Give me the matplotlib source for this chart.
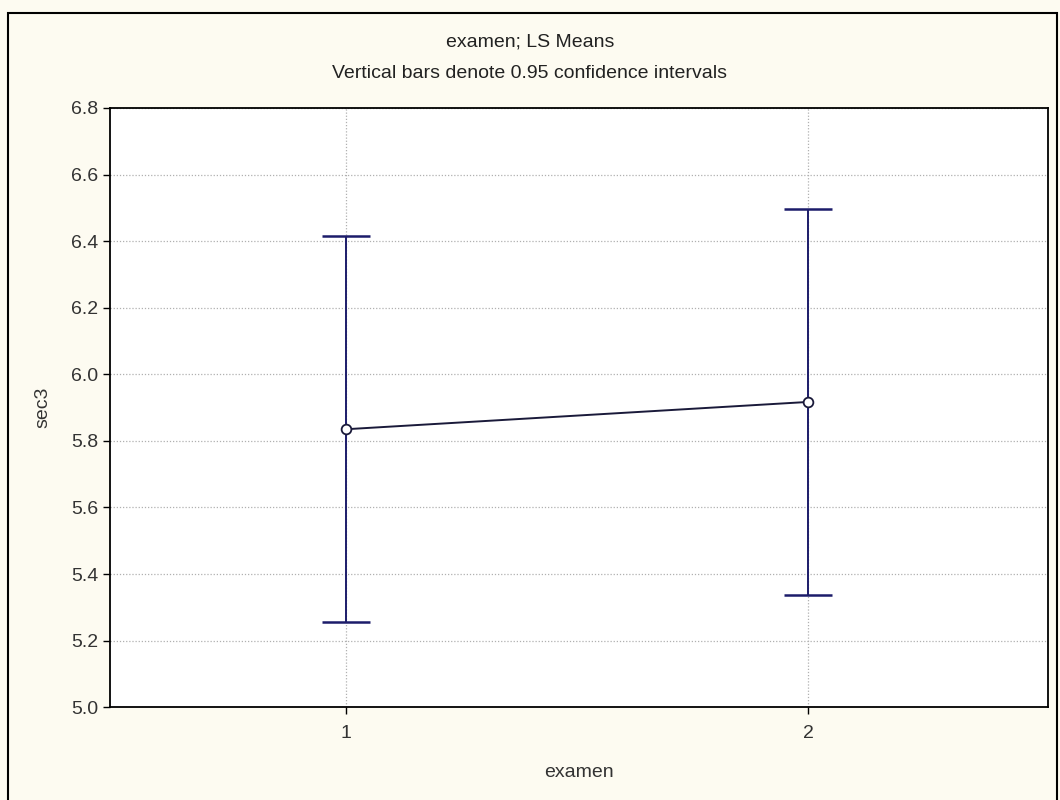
import matplotlib
matplotlib.use("Agg")
import matplotlib.pyplot as plt
from matplotlib.patches import Rectangle

# LS means for sec3 by examen, with 0.95 confidence limits
groups = [1, 2]
means = [5.835, 5.917]
lower = [5.255, 5.337]
upper = [6.415, 6.497]

plt.rcParams["font.family"] = ["Liberation Sans", "DejaVu Sans"]

fig = plt.figure(figsize=(10.6, 8.0), dpi=100, facecolor="#fdfbf1")
ax = fig.add_axes([0.104, 0.116, 0.885, 0.749])
ax.set_facecolor("white")

err_lo = [m - l for m, l in zip(means, lower)]
err_hi = [u - m for m, u in zip(means, upper)]
ax.errorbar(groups, means, yerr=[err_lo, err_hi], fmt="none",
            ecolor="#1c1c6a", elinewidth=1.4, capsize=17, capthick=1.8,
            zorder=3)
ax.plot(groups, means, color="#1a1a3a", lw=1.4, zorder=4)
ax.plot(groups, means, "o", ms=7, mfc="white", mec="#1a1a3a", mew=1.3,
        zorder=5)

ax.set_xlim(0.49, 2.52)
ax.set_ylim(5.0, 6.8)
ax.set_xticks(groups)
ax.set_yticks([5.0 + 0.2 * i for i in range(10)])
ax.set_yticklabels([f"{5.0 + 0.2 * i:.1f}" for i in range(10)])
ax.grid(True, linestyle=(0, (1, 1.5)), color="#b0b0b0", lw=0.9)
ax.set_axisbelow(True)
for s in ax.spines.values():
    s.set_linewidth(1.3)
    s.set_color("black")
ax.tick_params(axis="both", labelsize=14, colors="black", length=5,
               width=1, labelcolor="#333333")
ax.tick_params(axis="x", pad=8)

ax.set_xlabel("examen", fontsize=14, color="#333333", labelpad=16)
ax.set_ylabel("sec3", fontsize=14, color="#333333", labelpad=14)

fig.text(0.5, 1 - 42 / 800, "examen; LS Means", ha="center", va="center",
         fontsize=14, color="#222222")
fig.text(0.5, 1 - 73 / 800, "Vertical bars denote 0.95 confidence intervals",
         ha="center", va="center", fontsize=14, color="#222222")

fig.patches.append(Rectangle((8 / 1060, -0.01), 1049 / 1060, 1 - 13 / 800 + 0.01,
                             transform=fig.transFigure, fill=False,
                             edgecolor="black", lw=1.5))

fig.savefig("out.png", dpi=100, facecolor=fig.get_facecolor())
plt.close(fig)
